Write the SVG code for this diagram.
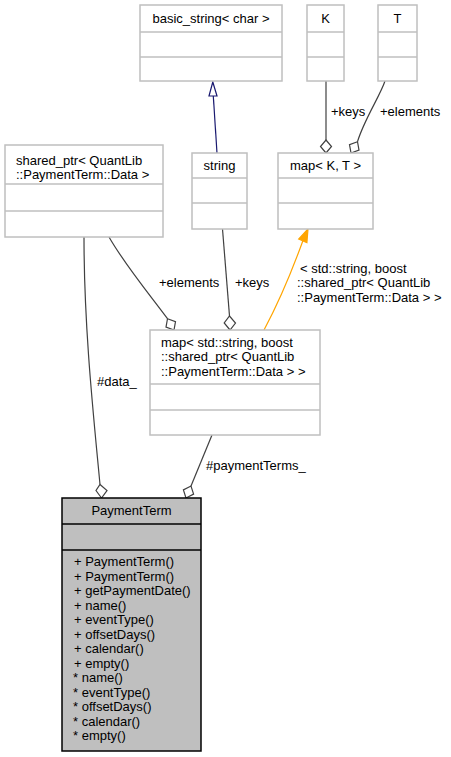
<svg xmlns="http://www.w3.org/2000/svg" width="451" height="757" viewBox="0 0 451 757">
<style>
text{font-family:"Liberation Sans",Arial,sans-serif;font-size:13px;fill:#000}
.c{text-anchor:middle}
.box{fill:#fff;stroke:#bfbfbf;stroke-width:1.5}
.sep{stroke:#bfbfbf;stroke-width:1.5}
.main{fill:#bfbfbf;stroke:#000;stroke-width:1.5}
.msep{stroke:#000;stroke-width:1.5}
.e{fill:none;stroke:#404040;stroke-width:1.2}
.dia{fill:#fff;stroke:#404040;stroke-width:1.2}
</style>
<rect width="451" height="757" fill="#fff"/>
<g id="connectors">
  <path d="M217,153 L213.3,96" fill="none" stroke="#191970" stroke-width="1.2"/>
  <polygon points="212.8,82 209,96 217,96" fill="#fff" stroke="#191970" stroke-width="1.2"/>
  <path class="e" d="M326,81 L326,140"/>
  <polygon class="dia" points="326,153 320.5,146.5 326,140 331.5,146.5"/>
  <text x="331" y="116">+keys</text>
  <path class="e" d="M385,81 C380,96 364,120 357.5,141.7"/>
  <polygon class="dia" points="351,153 349.5,144.6 357.5,141.7 359,150.1"/>
  <text x="380" y="116">+elements</text>
  <path class="e" d="M109,237 C125,265 150,295 167.5,318.7"/>
  <polygon class="dia" points="174,330 166,327.1 167.5,318.7 175.5,321.6"/>
  <text x="159" y="287">+elements</text>
  <path class="e" d="M222.5,229 L229.5,316"/>
  <polygon class="dia" points="230,330 224.2,323 229.5,316 235.5,323"/>
  <text x="235" y="287">+keys</text>
  <path d="M264,330 C280,300 293,268 302.8,241" fill="none" stroke="#ffa500" stroke-width="1.2"/>
  <polygon points="308,229 298.7,239.1 306.9,242.7" fill="#ffa500" stroke="#ffa500" stroke-width="1.2"/>
  <text x="300" y="272.5">&lt; std::string, boost</text>
  <text x="297" y="287">::shared_ptr&lt; QuantLib</text>
  <text x="297" y="301.5">::PaymentTerm::Data &gt; &gt;</text>
  <path class="e" d="M84,237 C84,330 94,420 100,484.5"/>
  <polygon class="dia" points="101.5,498 96,490.5 100,484.5 107,490.5"/>
  <text x="97" y="386">#data_</text>
  <path class="e" d="M212,435 L191,486"/>
  <polygon class="dia" points="186,498 183.4,489.9 191,486 193.6,494.1"/>
  <text x="206" y="470">#paymentTerms_</text>
</g>
<g id="node-basic_string">
  <rect class="box" x="140" y="5" width="142" height="76"/>
  <line class="sep" x1="140" y1="32" x2="282" y2="32"/>
  <line class="sep" x1="140" y1="57" x2="282" y2="57"/>
  <text class="c" x="211" y="22.5">basic_string&lt; char &gt;</text>
</g>
<g id="node-K">
  <rect class="box" x="307" y="5" width="37" height="76"/>
  <line class="sep" x1="307" y1="32" x2="344" y2="32"/>
  <line class="sep" x1="307" y1="57" x2="344" y2="57"/>
  <text class="c" x="325.5" y="22.5">K</text>
</g>
<g id="node-T">
  <rect class="box" x="378" y="5" width="39" height="76"/>
  <line class="sep" x1="378" y1="32" x2="417" y2="32"/>
  <line class="sep" x1="378" y1="57" x2="417" y2="57"/>
  <text class="c" x="397.5" y="22.5">T</text>
</g>
<g id="node-shared_ptr">
  <rect class="box" x="5" y="145" width="158" height="92"/>
  <line class="sep" x1="5" y1="184" x2="163" y2="184"/>
  <line class="sep" x1="5" y1="211" x2="163" y2="211"/>
  <text x="16" y="164.5">shared_ptr&lt; QuantLib</text>
  <text x="16" y="179">::PaymentTerm::Data &gt;</text>
</g>
<g id="node-string">
  <rect class="box" x="192" y="153" width="55" height="76"/>
  <line class="sep" x1="192" y1="178" x2="247" y2="178"/>
  <line class="sep" x1="192" y1="203" x2="247" y2="203"/>
  <text class="c" x="219.5" y="169.5">string</text>
</g>
<g id="node-map_K_T">
  <rect class="box" x="278" y="153" width="95" height="76"/>
  <line class="sep" x1="278" y1="178" x2="373" y2="178"/>
  <line class="sep" x1="278" y1="203" x2="373" y2="203"/>
  <text class="c" x="325.5" y="169.5">map&lt; K, T &gt;</text>
</g>
<g id="node-map_string">
  <rect class="box" x="150" y="330" width="170" height="105"/>
  <line class="sep" x1="150" y1="384" x2="320" y2="384"/>
  <line class="sep" x1="150" y1="410" x2="320" y2="410"/>
  <text x="161" y="346.5">map&lt; std::string, boost</text>
  <text x="161" y="361">::shared_ptr&lt; QuantLib</text>
  <text x="161" y="375.5">::PaymentTerm::Data &gt; &gt;</text>
</g>
<g id="node-PaymentTerm">
  <rect class="main" x="62" y="498" width="139" height="253"/>
  <line class="msep" x1="62" y1="524" x2="201" y2="524"/>
  <line class="msep" x1="62" y1="550" x2="201" y2="550"/>
  <text class="c" x="131.5" y="515">PaymentTerm</text>
  <text x="74" y="566">+ PaymentTerm()</text>
  <text x="74" y="580.5">+ PaymentTerm()</text>
  <text x="74" y="595">+ getPaymentDate()</text>
  <text x="74" y="609.5">+ name()</text>
  <text x="74" y="624">+ eventType()</text>
  <text x="74" y="638.5">+ offsetDays()</text>
  <text x="74" y="653">+ calendar()</text>
  <text x="74" y="667.5">+ empty()</text>
  <text x="73" y="682">* name()</text>
  <text x="73" y="696.5">* eventType()</text>
  <text x="73" y="711">* offsetDays()</text>
  <text x="73" y="725.5">* calendar()</text>
  <text x="73" y="740">* empty()</text>
</g>
</svg>
